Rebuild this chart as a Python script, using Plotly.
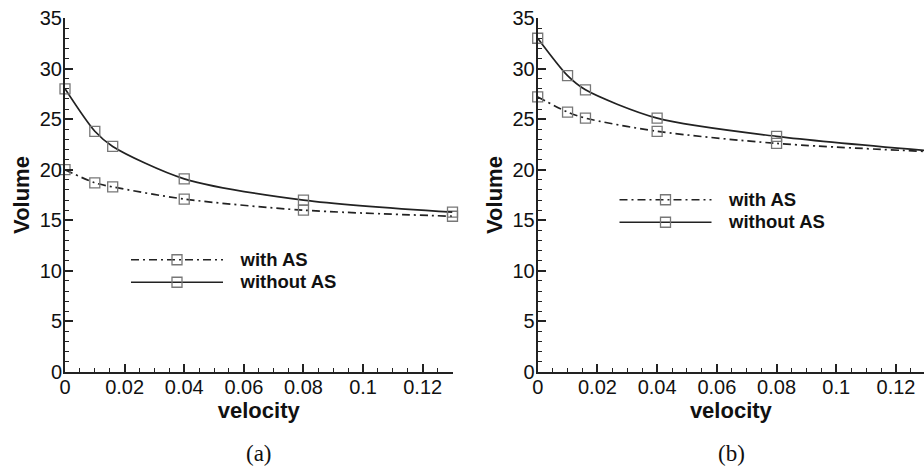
import plotly.graph_objects as go

# ---- data ----
velocity = [0, 0.01, 0.016, 0.04, 0.08, 0.13]
a_with_as = [20.0, 18.7, 18.3, 17.1, 16.0, 15.4]
a_without_as = [28.0, 23.8, 22.3, 19.1, 17.0, 15.8]
b_with_as = [27.2, 25.7, 25.1, 23.8, 22.6, 21.8]
b_without_as = [33.0, 29.3, 27.9, 25.1, 23.3, 21.9]
series_names = ["with AS", "without AS"]
panel_labels = ["(a)", "(b)"]
x_tickvals = [0, 0.02, 0.04, 0.06, 0.08, 0.1, 0.12]
x_ticktext = ["0", "0.02", "0.04", "0.06", "0.08", "0.1", "0.12"]
y_tickvals = [0, 5, 10, 15, 20, 25, 30, 35]
y_ticktext = ["0", "5", "10", "15", "20", "25", "30", "35"]

LINE = "#222222"
MARK = "#777777"
FONT = "Liberation Sans, Arial, sans-serif"
SERIF = "Liberation Serif, Times New Roman, serif"

fig = go.Figure()

panels = [
    ("x", "y", "legend", a_with_as, a_without_as),
    ("x2", "y2", "legend2", b_with_as, b_without_as),
]
for xa, ya, lg, ywith, ywithout in panels:
    for name, ys, dash in ((series_names[0], ywith, "8px,4px,2px,4px"),
                           (series_names[1], ywithout, "solid")):
        fig.add_trace(go.Scatter(
            x=velocity, y=ys, xaxis=xa, yaxis=ya, legend=lg,
            name="\u00a0\u00a0\u00a0<span style='font-size:18.5px'><b>" + name + "</b></span>",
            mode="lines+markers", cliponaxis=False,
            line=dict(color=LINE, width=1.7, dash=dash, shape="spline", smoothing=0.8),
            marker=dict(symbol="square-open", size=10, color=MARK,
                        line=dict(width=1.3, color=MARK)),
        ))

W, H = 924, 471
ML, MR, MT, MB = 65, 0, 18, 99
pw = W - ML - MR
ph = H - MT - MB
xa_end = (452.5 - ML) / pw
xb_start = (537.7 - ML) / pw
b_max = 0.12 * (924 - 537.7) / (896 - 537.7)

axis_common = dict(
    showline=True, linecolor="#222", linewidth=2, mirror=False,
    ticks="inside", ticklen=8, tickwidth=1.5, tickcolor="#222",
    showgrid=False, zeroline=False,
    tickfont=dict(family=FONT, size=20, color="#111"),
)
xcommon = dict(axis_common, tickvals=x_tickvals, ticktext=x_ticktext,
               ticklabelstandoff=-4,
               minor=dict(dtick=0.005, tick0=0, ticks="inside", ticklen=4,
                          tickwidth=1, tickcolor="#222"),
               title=dict(text="<b>velocity</b>", standoff=0,
                          font=dict(family=FONT, size=22, color="#111")))
ycommon = dict(axis_common, tickvals=y_tickvals, ticktext=y_ticktext, range=[0, 35],
               ticklabelstandoff=-3,
               minor=dict(dtick=1, tick0=0, ticks="inside", ticklen=4,
                          tickwidth=1, tickcolor="#222"),
               title=dict(text="<b>Volume</b>", standoff=4,
                          font=dict(family=FONT, size=22, color="#111")))

legend_common = dict(
    bgcolor="rgba(0,0,0,0)", borderwidth=0, itemwidth=92,
    font=dict(family=FONT, size=15, color="#111"),
    xanchor="left", yanchor="top", tracegroupgap=0,
)

fig.update_layout(
    width=W, height=H, paper_bgcolor="white", plot_bgcolor="white",
    margin=dict(l=ML, r=MR, t=MT, b=MB),
    xaxis=dict(xcommon, domain=[0, xa_end], range=[0, 0.13], anchor="y"),
    yaxis=dict(ycommon, domain=[0, 1], anchor="x"),
    xaxis2=dict(xcommon, domain=[xb_start, 1], range=[0, b_max], anchor="y2"),
    yaxis2=dict(ycommon, domain=[0, 1], anchor="x2"),
    legend=dict(legend_common, x=(126 - ML) / pw, y=1 - (243.5 - MT) / ph),
    legend2=dict(legend_common, x=(614.5 - ML) / pw, y=1 - (183.5 - MT) / ph),
    annotations=[
        dict(text=panel_labels[0], x=((65 + 452.5) / 2 - ML) / pw, y=1 - (453 - MT) / ph,
             xref="paper", yref="paper", xanchor="center", yanchor="middle",
             showarrow=False, font=dict(family=SERIF, size=23, color="#111")),
        dict(text=panel_labels[1], x=((537.7 + 926) / 2 - ML) / pw, y=1 - (453 - MT) / ph,
             xref="paper", yref="paper", xanchor="center", yanchor="middle",
             showarrow=False, font=dict(family=SERIF, size=23, color="#111")),
    ],
)

fig.write_html("out.html", config={"displayModeBar": False},
               post_script="document.body.style.margin='0px';")
